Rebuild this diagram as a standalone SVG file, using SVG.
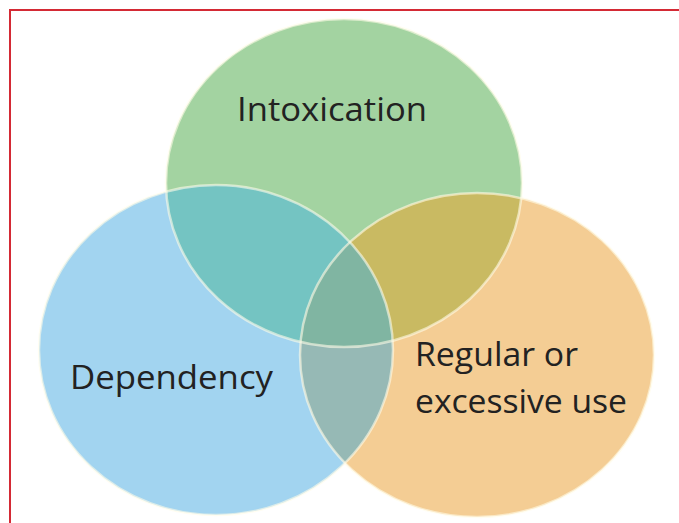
<svg xmlns="http://www.w3.org/2000/svg" width="679" height="523" viewBox="0 0 679 523">
<style>
.lbl{font-family:"Open Sans","Liberation Sans",sans-serif;font-size:33px;fill:#222;}
.edge{fill:none;stroke:#fffbe8;stroke-opacity:0.6;stroke-width:2.5;}
</style>
<defs>
<clipPath id="cG"><ellipse cx="344" cy="183" rx="178" ry="164"/></clipPath>
<clipPath id="cB"><ellipse cx="216" cy="350" rx="177" ry="165"/></clipPath>
<clipPath id="cO"><ellipse cx="477" cy="355" rx="177" ry="162"/></clipPath>
</defs>
<rect x="0" y="0" width="679" height="523" fill="#ffffff"/>
<path d="M10 523 V10 H679" fill="none" stroke="#d42a35" stroke-width="2"/>
<g id="circles">
<g id="intoxication-circle"><ellipse cx="344" cy="183" rx="178" ry="164" fill="#a3d3a1"/></g>
<g id="dependency-circle"><ellipse cx="216" cy="350" rx="177" ry="165" fill="#a2d4f0"/></g>
<g id="regular-circle"><ellipse cx="477" cy="355" rx="177" ry="162" fill="#f4cd94"/></g>
<g id="overlaps">
<g clip-path="url(#cG)"><ellipse cx="216" cy="350" rx="177" ry="165" fill="#74c4c2"/></g>
<g clip-path="url(#cG)"><ellipse cx="477" cy="355" rx="177" ry="162" fill="#c9ba62"/></g>
<g clip-path="url(#cB)"><ellipse cx="477" cy="355" rx="177" ry="162" fill="#96b9b5"/></g>
<g clip-path="url(#cB)"><g clip-path="url(#cG)"><ellipse cx="477" cy="355" rx="177" ry="162" fill="#80b5a2"/></g></g>
</g>
<g id="edges">
<ellipse class="edge" cx="344" cy="183" rx="178" ry="164" stroke-opacity="0.3"/>
<ellipse class="edge" cx="216" cy="350" rx="177" ry="165"/>
<ellipse class="edge" cx="477" cy="355" rx="177" ry="162"/>
</g>
</g>
<g id="labels">
<text class="lbl" x="237" y="121" textLength="190" lengthAdjust="spacingAndGlyphs">Intoxication</text>
<text class="lbl" x="70" y="389" textLength="203" lengthAdjust="spacingAndGlyphs">Dependency</text>
<text class="lbl" x="415" y="366" textLength="163" lengthAdjust="spacingAndGlyphs">Regular or</text>
<text class="lbl" x="415" y="413" textLength="212" lengthAdjust="spacingAndGlyphs">excessive use</text>
</g>
</svg>
